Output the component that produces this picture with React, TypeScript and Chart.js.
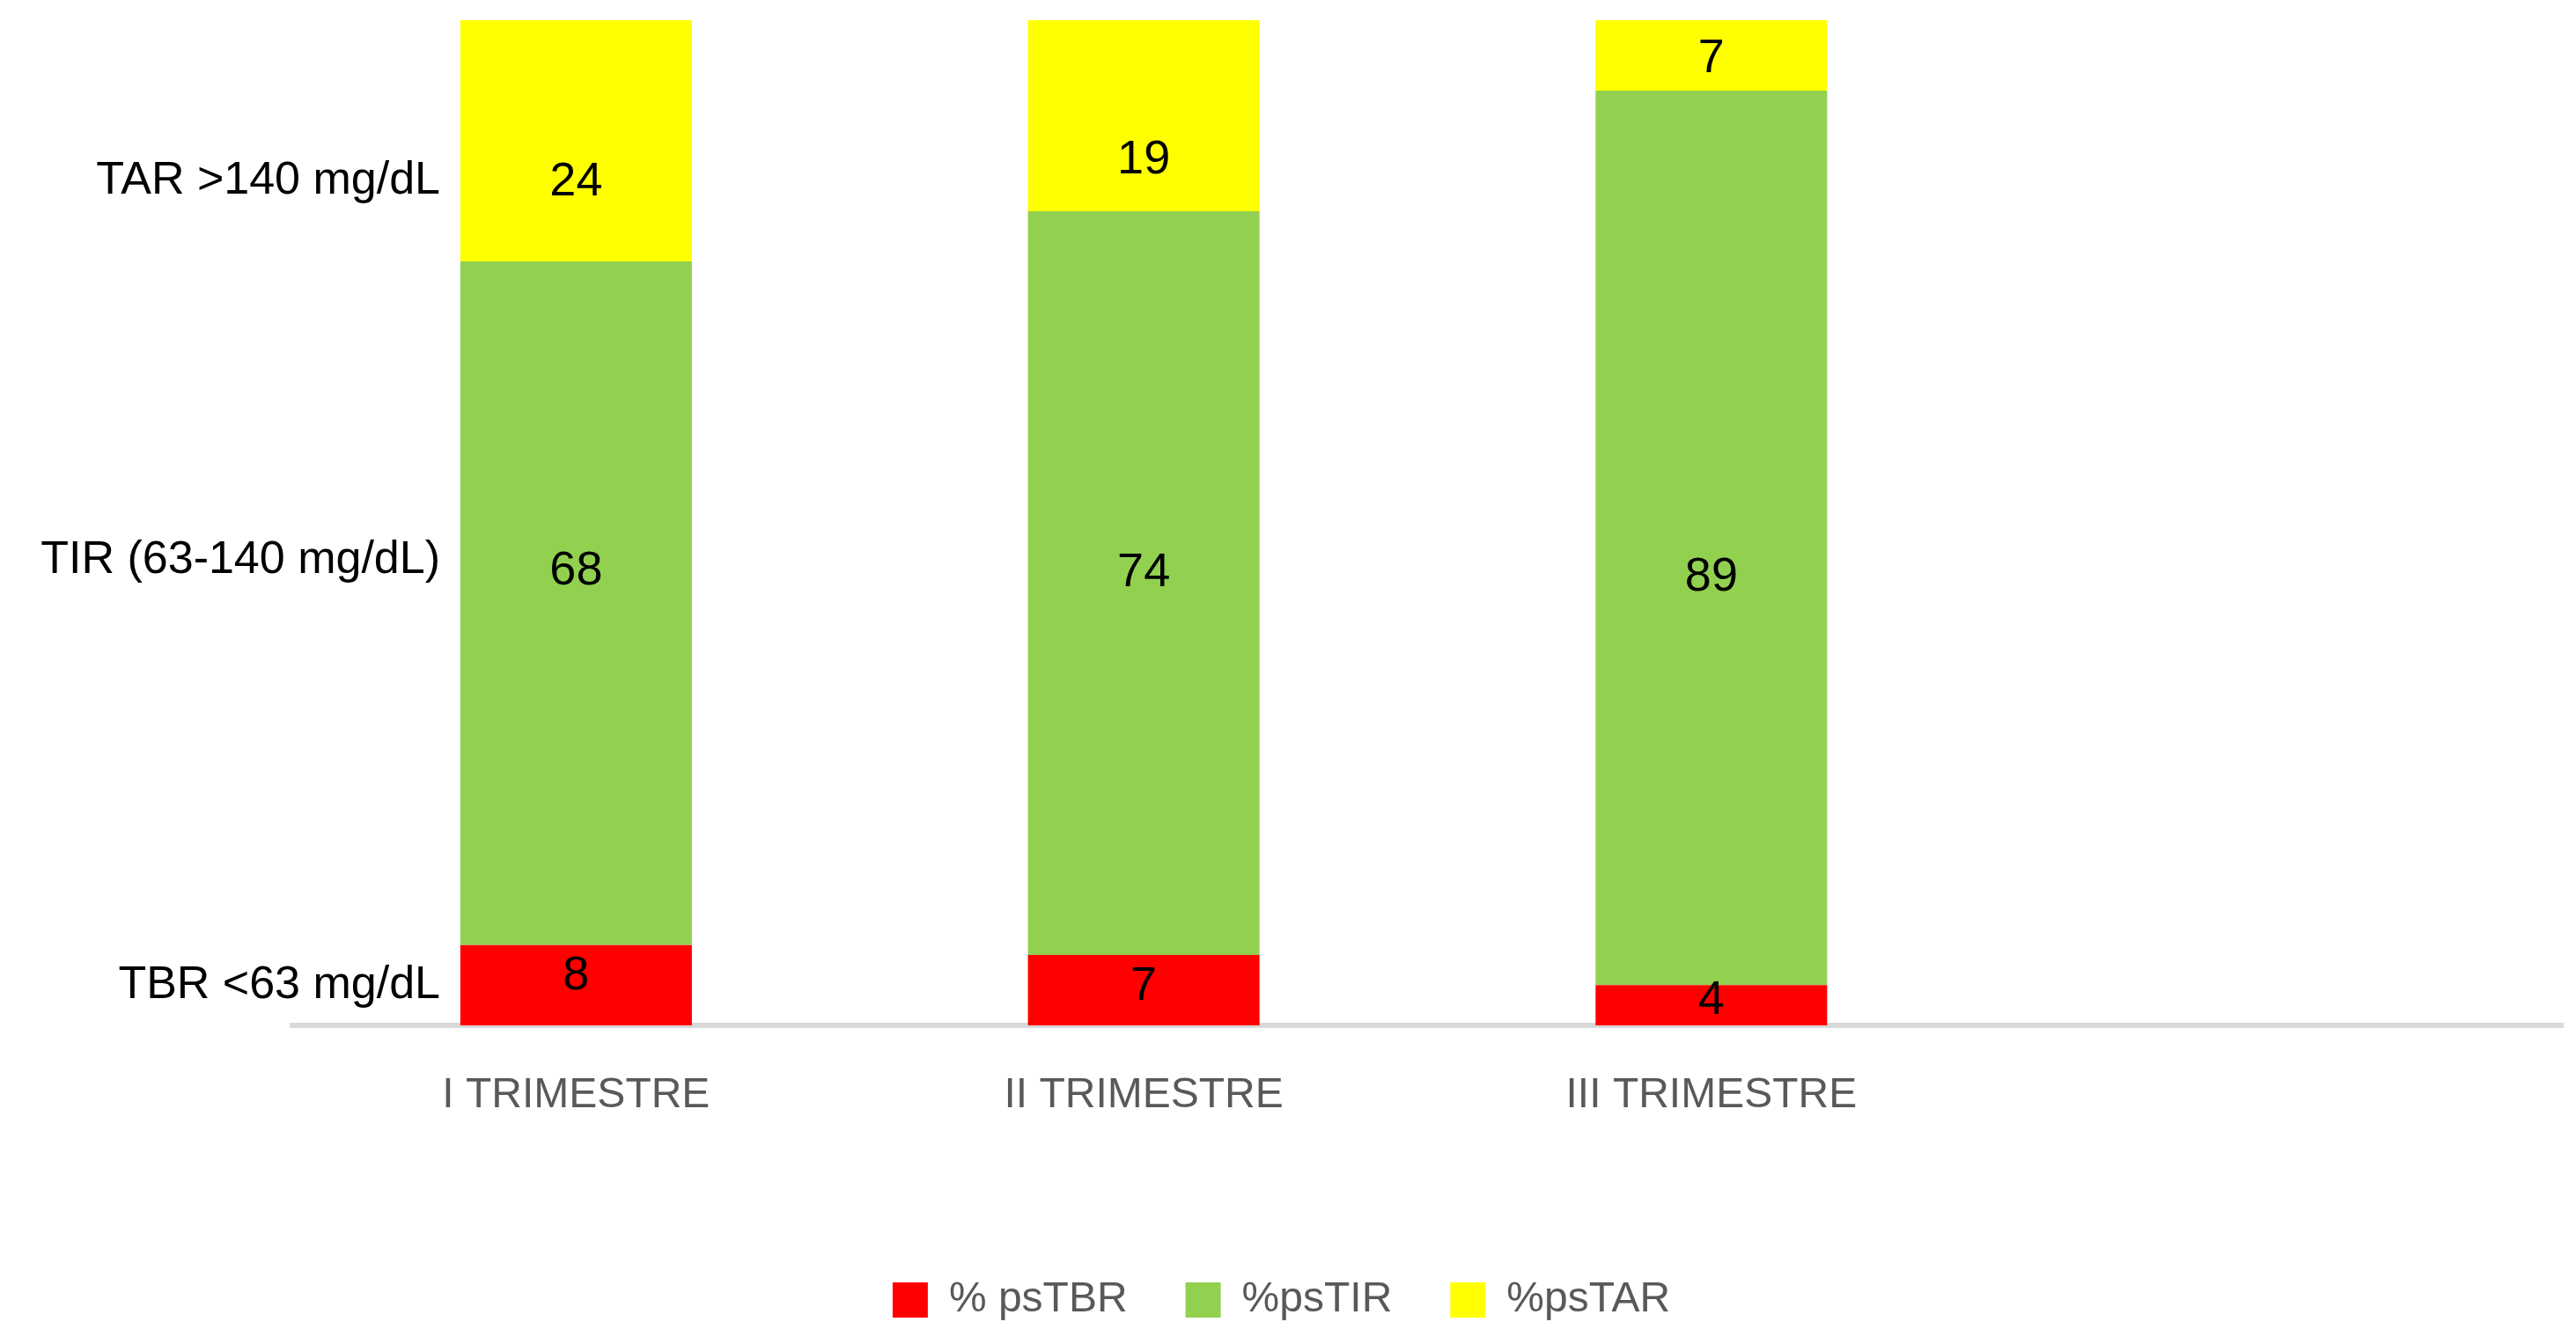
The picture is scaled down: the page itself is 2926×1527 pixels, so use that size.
import React, { useEffect, useRef } from "react";
import { Chart, registerables } from "chart.js";

Chart.register(...registerables);

// ---- data ----
const categories = ["I TRIMESTRE", "II TRIMESTRE", "III TRIMESTRE", ""];
const seriesNames = ["% psTBR", "%psTIR", "%psTAR"];
const tbrValues = [8, 7, 4, null];
const tirValues = [68, 74, 89, null];
const tarValues = [24, 19, 7, null];
// where each value label sits, in y-axis units (as placed in the reference)
const tbrLabelAt = [4.9, 3.8, 2.4];
const tirLabelAt = [45.2, 45.0, 44.6];
const tarLabelAt = [83.9, 86.1, 96.1];
// range captions on the left, in y-axis units
const rangeLabels = ["TBR <63 mg/dL", "TIR (63-140 mg/dL)", "TAR >140 mg/dL"];
const rangeLabelAt = [4.0, 46.3, 84.0];

const seriesColors = ["#FF0000", "#92D050", "#FFFF00"];
const FONT = '"Liberation Sans", Arial, sans-serif';

const labelPlugin = {
  id: "customLabels",
  afterDatasetsDraw(chart: any) {
    const ctx = chart.ctx;
    const y = chart.scales.y;
    const anchors = [tbrLabelAt, tirLabelAt, tarLabelAt];
    ctx.save();
    ctx.fillStyle = "#000000";
    ctx.textAlign = "center";
    ctx.textBaseline = "middle";
    ctx.font = `54px ${FONT}`;
    chart.data.datasets.forEach((ds: any, di: number) => {
      const meta = chart.getDatasetMeta(di);
      ds.data.forEach((v: any, i: number) => {
        if (v == null) return;
        const bar = meta.data[i];
        ctx.fillText(String(v), bar.x, y.getPixelForValue(anchors[di][i]));
      });
    });
    ctx.textAlign = "right";
    ctx.font = `52px ${FONT}`;
    const rightEdge = chart.chartArea.left + 168;
    rangeLabels.forEach((t, i) => {
      ctx.fillText(t, rightEdge, y.getPixelForValue(rangeLabelAt[i]));
    });
    ctx.restore();
  },
};

export default function App() {
  const ref = useRef<HTMLCanvasElement | null>(null);

  useEffect(() => {
    document.body.style.margin = "0";
    const canvas = ref.current!;
    const chart = new Chart(canvas, {
      type: "bar",
      data: {
        labels: categories,
        datasets: [
          { label: seriesNames[0], data: tbrValues, backgroundColor: seriesColors[0] },
          { label: seriesNames[1], data: tirValues, backgroundColor: seriesColors[1] },
          { label: seriesNames[2], data: tarValues, backgroundColor: seriesColors[2] },
        ],
      },
      options: {
        responsive: false,
        animation: false,
        devicePixelRatio: 1,
        datasets: {
          bar: { categoryPercentage: 1, barPercentage: 0.408, borderWidth: 0 },
        },
        layout: { padding: { top: 23, right: 15, bottom: 16, left: 0 } },
        scales: {
          x: {
            stacked: true,
            grid: { display: false, drawTicks: false },
            border: { display: true, color: "#D9D9D9", width: 6 },
            ticks: { color: "#595959", font: { size: 48, family: FONT }, padding: 51, maxRotation: 0 },
            afterFit: (s: any) => {
              s.height = 222;
            },
          },
          y: {
            stacked: true,
            min: 0,
            max: 100,
            grid: { display: false, drawTicks: false },
            border: { display: false },
            ticks: { display: false },
            afterFit: (s: any) => {
              s.width = 332;
            },
          },
        },
        plugins: {
          legend: {
            position: "bottom",
            labels: {
              boxWidth: 40,
              boxHeight: 40,
              padding: 66,
              color: "#595959",
              font: { size: 48, family: FONT },
            },
          },
          tooltip: { enabled: false },
        },
      },
      plugins: [labelPlugin],
    });
    return () => chart.destroy();
  }, []);

  return (
    <div style={{ width: 2926, height: 1527, background: "#ffffff" }}>
      <canvas ref={ref} width={2926} height={1527} style={{ display: "block" }} />
    </div>
  );
}
